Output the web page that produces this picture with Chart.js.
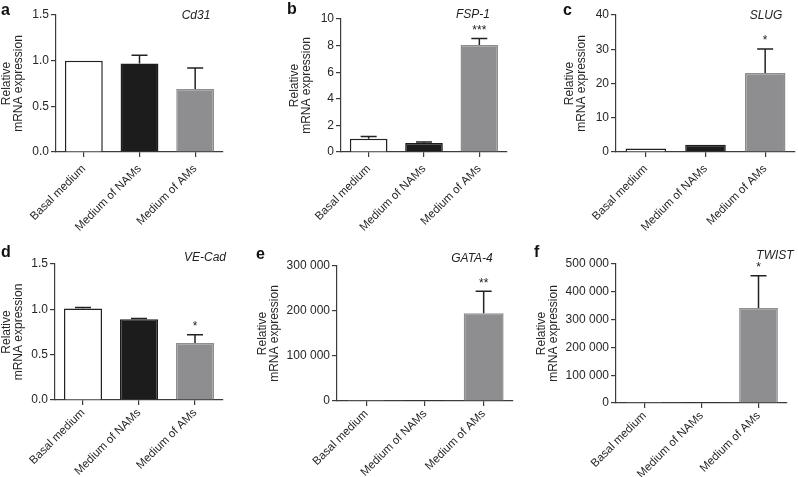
<!DOCTYPE html>
<html><head><meta charset="utf-8">
<script src="https://cdn.jsdelivr.net/npm/chart.js@4.4.1/dist/chart.umd.min.js"></script>
<style>
html,body{margin:0;padding:0;background:#fff;width:798px;height:477px;overflow:hidden;position:relative;font-family:"Liberation Sans",Arial,sans-serif}
canvas{position:absolute}
.lt{position:absolute;font-weight:bold;font-size:16px;line-height:16px;color:#111}
.gn{position:absolute;font-style:italic;font-size:12px;line-height:12px;color:#222;transform:translate(-50%,-50%);white-space:nowrap}
</style></head><body>
<script>
// ---- data ----
const categories = ['Basal medium', 'Medium of NAMs', 'Medium of AMs'];
const cd31Mean  = [1.0, 0.97, 0.69];
const cd31Err   = [0, 0.09, 0.23];
const fsp1Mean  = [1.0, 0.68, 8.05];
const fsp1Err   = [0.17, 0.07, 0.48];
const slugMean  = [1.0, 2.1, 23.1];
const slugErr   = [0, 0, 7.0];
const vecadMean = [1.01, 0.89, 0.63];
const vecadErr  = [0.01, 0.01, 0.09];
const gata4Mean = [1, 1, 195000];
const gata4Err  = [0, 0, 49000];
const twistMean = [1, 1, 342000];
const twistErr  = [0, 0, 116000];
const geneNames = ['Cd31', 'FSP-1', 'SLUG', 'VE-Cad', 'GATA-4', 'TWIST'];
const sigMarks  = ['', '***', '*', '*', '**', '*'];
const panelLetters = ['a', 'b', 'c', 'd', 'e', 'f'];
const yMaxes  = [1.5, 10, 40, 1.5, 300000, 500000];
const ySteps  = [0.5, 2, 10, 0.5, 100000, 100000];
const yTitle  = ['Relative', 'mRNA expression'];

const means = [cd31Mean, fsp1Mean, slugMean, vecadMean, gata4Mean, twistMean];
const errs  = [cd31Err, fsp1Err, slugErr, vecadErr, gata4Err, twistErr];

// ---- layout (styles) ----
const boxes = [
  {cx:0,   cy:0,   w:232, h:235, l:56,  r:223, t:15,  b:152, fmt:'f1', xp:5},
  {cx:288, cy:0,   w:228, h:235, l:341, r:507, t:19,  b:152, fmt:'i',  xp:5},
  {cx:563, cy:0,   w:235, h:235, l:616, r:795, t:15,  b:152, fmt:'i',  xp:5},
  {cx:0,   cy:235, w:232, h:242, l:55,  r:223, t:264, b:400, fmt:'f1', xp:1},
  {cx:256, cy:235, w:264, h:242, l:337, r:513, t:266, b:401, fmt:'sp', xp:1},
  {cx:535, cy:235, w:263, h:242, l:616, r:787, t:264, b:403, fmt:'sp', xp:1}
];
const letterPos = [[1,2],[287,1],[563,2],[1,244],[256,246],[534,244]];
const genePos = [[196,15],[473,14],[766,15],[205,257],[472,258],[775,255]];

const FONT = '"Liberation Sans", Arial, sans-serif';
Chart.defaults.font.family = FONT;
const AX = '#3c3c3c', TX = '#262626';

function fmtTick(v, f){
  if (f === 'f1') return v.toFixed(1);
  if (f === 'sp') return v === 0 ? '0' : String(v).replace(/\B(?=(\d{3})+(?!\d))/g, ' ');
  return String(v);
}

const errPlugin = {
  id: 'errbars',
  afterDatasetsDraw(chart, args, opts) {
    const ctx = chart.ctx, meta = chart.getDatasetMeta(0), ys = chart.scales.y;
    const m = chart.data.datasets[0].data, e = opts.err;
    ctx.save();
    ctx.strokeStyle = '#222'; ctx.lineWidth = 1.5;
    meta.data.forEach((bar, i) => {
      if (!e[i]) return;
      const x = bar.x, y0 = ys.getPixelForValue(m[i]), y1 = ys.getPixelForValue(m[i] + e[i]);
      ctx.beginPath();
      ctx.moveTo(x, y0); ctx.lineTo(x, y1);
      ctx.moveTo(x - 8, y1); ctx.lineTo(x + 8, y1);
      ctx.stroke();
    });
    if (opts.sig) {
      const i = 2, x = meta.data[i].x, y = ys.getPixelForValue(m[i] + e[i]);
      ctx.fillStyle = '#222'; ctx.font = '12px ' + FONT;
      ctx.textAlign = 'center'; ctx.textBaseline = 'bottom';
      ctx.fillText(opts.sig, x, y - 2);
    }
    ctx.restore();
  }
};

boxes.forEach((B, k) => {
  const cv = document.createElement('canvas');
  cv.width = B.w; cv.height = B.h;
  cv.style.left = B.cx + 'px'; cv.style.top = B.cy + 'px';
  cv.style.width = B.w + 'px'; cv.style.height = B.h + 'px';
  document.body.appendChild(cv);

  new Chart(cv, {
    type: 'bar',
    data: {
      labels: categories,
      datasets: [{
        data: means[k],
        backgroundColor: ['#ffffff', '#1c1c1c', '#8e8e90'],
        borderColor: ['#222222', '#1c1c1c', '#8e8e90'],
        borderWidth: 1.5,
        barPercentage: 0.68,
        categoryPercentage: 1
      }]
    },
    options: {
      responsive: false, animation: false, devicePixelRatio: 1,
      layout: { padding: { top: B.t - B.cy, right: B.cx + B.w - B.r, left: 0, bottom: 0 } },
      plugins: { legend: { display: false }, tooltip: { enabled: false },
                 errbars: { err: errs[k], sig: sigMarks[k] } },
      scales: {
        x: {
          afterFit(s) { s.height = B.cy + B.h - B.b; },
          grid: { offset: false, drawOnChartArea: false, drawTicks: true, tickLength: 5, color: AX, lineWidth: 1.2 },
          border: { display: true, color: AX, width: 1.2 },
          ticks: { maxRotation: 45, minRotation: 45, autoSkip: false, padding: B.xp, color: TX, font: { size: 11.5 } }
        },
        y: {
          min: 0, max: yMaxes[k],
          afterFit(s) { s.width = B.l - B.cx; },
          grid: { drawOnChartArea: false, drawTicks: true, tickLength: 5, color: AX, lineWidth: 1.2 },
          border: { display: true, color: AX, width: 1.2 },
          ticks: { stepSize: ySteps[k], padding: 2, color: TX, font: { size: 12 },
                   callback: v => fmtTick(v, B.fmt) },
          title: { display: true, text: yTitle, color: TX, font: { size: 12, lineHeight: 1.05 },
                   padding: { top: 0, bottom: 0 } }
        }
      }
    },
    plugins: [errPlugin]
  });

  const L = document.createElement('div');
  L.className = 'lt'; L.textContent = panelLetters[k];
  L.style.left = letterPos[k][0] + 'px'; L.style.top = letterPos[k][1] + 'px';
  document.body.appendChild(L);

  const G = document.createElement('div');
  G.className = 'gn'; G.textContent = geneNames[k];
  G.style.left = genePos[k][0] + 'px'; G.style.top = genePos[k][1] + 'px';
  document.body.appendChild(G);
});
</script>
</body></html>
